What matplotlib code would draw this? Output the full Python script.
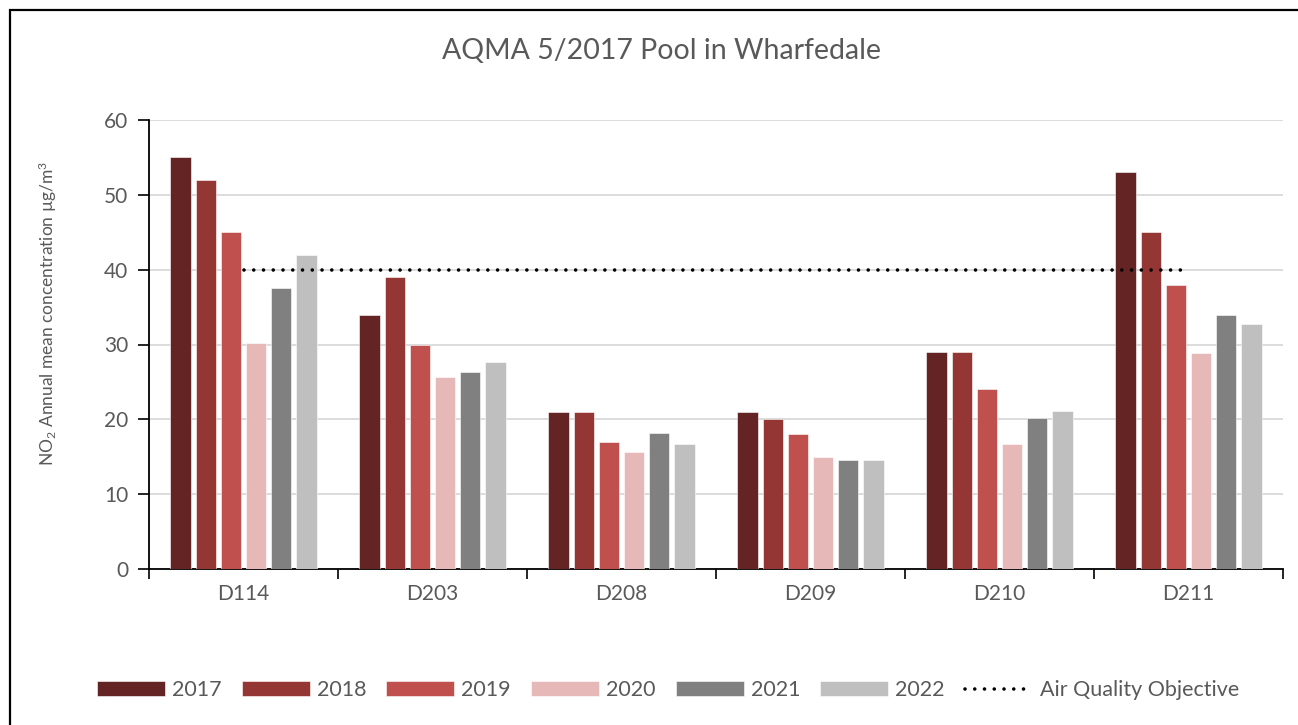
import numpy as np
import matplotlib.pyplot as plt
from matplotlib.patches import Rectangle

plt.rcParams['font.family'] = ['Lato', 'DejaVu Sans']
plt.rcParams['mathtext.fontset'] = 'custom'
plt.rcParams['mathtext.rm'] = 'Lato'
plt.rcParams['mathtext.it'] = 'Lato'

# data
sites = ['D114', 'D203', 'D208', 'D209', 'D210', 'D211']
years = ['2017', '2018', '2019', '2020', '2021', '2022']
v2017 = [55, 34, 21, 21, 29, 53]
v2018 = [52, 39, 21, 20, 29, 45]
v2019 = [45, 30, 17, 18, 24, 38]
v2020 = [30.2, 25.7, 15.7, 14.9, 16.7, 28.9]
v2021 = [37.6, 26.3, 18.2, 14.5, 20.2, 33.9]
v2022 = [42.0, 27.6, 16.7, 14.6, 21.1, 32.7]
objective = [40, 40, 40, 40, 40, 40]

colours = ['#652424', '#943634', '#C0504D', '#E6B9B8', '#808080', '#BFBFBF']
text_col = '#595959'

fig = plt.figure(figsize=(12.98, 7.25), dpi=100)
ax = fig.add_axes([149 / 1298, 1 - 569 / 725, (1283 - 149) / 1298, (569 - 120) / 725])

# outer chart border
fig.patches.append(Rectangle((10 / 1298, -0.1), 1.2, 1 - 10 / 725 + 0.1,
                             transform=fig.transFigure, fill=False,
                             edgecolor='black', linewidth=1.6))

x = np.arange(len(sites))
slot = 0.1333
width = 0.106
series = [v2017, v2018, v2019, v2020, v2021, v2022]
handles = []
for j, vals in enumerate(series):
    b = ax.bar(x + (j - 2.5) * slot, vals, width, color=colours[j], label=years[j],
               edgecolor='white', linewidth=0.4, zorder=3)
    handles.append(b)

line, = ax.plot(x, objective, color='black', linewidth=2.6, linestyle=(0, (0.001, 2.7)),
                dash_capstyle='round', label='Air Quality Objective', zorder=4)
handles.append(line)

ax.set_xlim(-0.5, 5.5)
ax.set_ylim(0, 60)
ax.set_yticks(np.arange(0, 61, 10))
ax.yaxis.grid(True, color='#D9D9D9', linewidth=1.3, zorder=0)
ax.set_axisbelow(True)

ax.set_xticks(np.arange(-0.5, 5.6, 1))
ax.set_xticklabels([])
ax.set_xticks(x, minor=True)
ax.set_xticklabels(sites, minor=True)
ax.tick_params(axis='x', which='major', length=7, width=1.2, direction='out')
ax.tick_params(axis='x', which='minor', length=0, pad=11, labelsize=15, labelcolor=text_col)
ax.tick_params(axis='y', length=8, width=1.2, direction='out', pad=7, labelsize=15,
               labelcolor=text_col)

for s in ['top', 'right']:
    ax.spines[s].set_visible(False)
ax.spines['left'].set_linewidth(1.3)
ax.spines['bottom'].set_linewidth(1.3)

fig.text(661 / 1298, 1 - 51 / 725, 'AQMA 5/2017 Pool in Wharfedale', ha='center', va='center',
         fontsize=20.5, color=text_col)
fig.text(48 / 1298, 1 - 313 / 725, r'NO$_2$ Annual mean concentration µg/m$^3$',
         rotation=90, ha='center', va='center', fontsize=12.5, color=text_col)

leg = fig.legend(handles=handles, labels=years + ['Air Quality Objective'], loc='center',
                 bbox_to_anchor=(668 / 1298, 1 - 690 / 725), ncol=7,
                 frameon=False, fontsize=15.5, handlelength=3.16, handleheight=0.65,
                 handletextpad=0.33, columnspacing=0.93)
for t in leg.get_texts():
    t.set_color(text_col)

fig.savefig('out.png', dpi=100)
